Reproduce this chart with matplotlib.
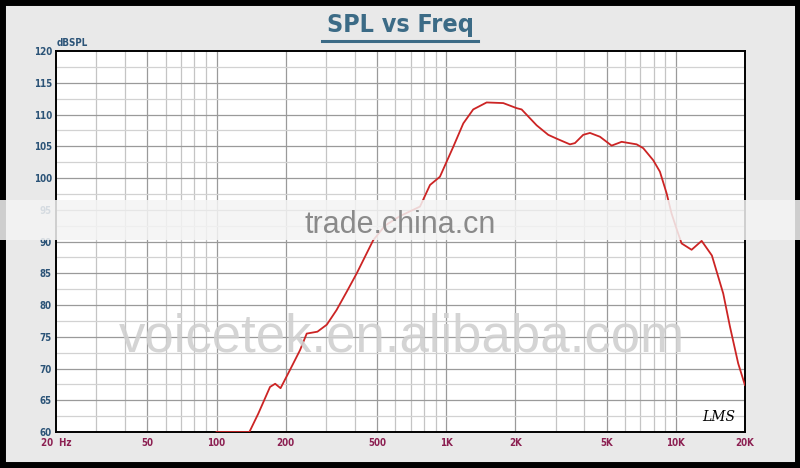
import numpy as np
import matplotlib
matplotlib.use('Agg')
import matplotlib.pyplot as plt
from matplotlib.patches import Rectangle
from matplotlib.lines import Line2D

# SPL response
freq_hz = [100, 139, 152, 171, 180, 190, 209, 231, 247, 275, 302, 333, 369, 408,
           450, 481, 541, 629, 769, 850, 939, 1073, 1187, 1311, 1500, 1772, 2027,
           2130, 2476, 2782, 3026, 3458, 3636, 3950, 4226, 4672, 5252, 5806, 6750,
           7210, 7970, 8522, 9112, 9580, 10070, 10590, 11710, 12950, 14350, 16080,
           17200, 18680, 19980]
spl_db = [60, 60, 62.9, 67.1, 67.6, 66.9, 69.8, 72.9, 75.5, 75.8, 76.9, 79.2, 82.1,
          85.0, 88.1, 90.2, 92.5, 94.0, 95.5, 98.9, 100.2, 104.9, 108.6, 110.8,
          111.9, 111.8, 111.0, 110.8, 108.3, 106.8, 106.2, 105.3, 105.5, 106.8,
          107.1, 106.5, 105.1, 105.7, 105.3, 104.7, 102.8, 101.0, 97.6, 94.4, 92.0,
          89.7, 88.7, 90.1, 87.8, 81.8, 76.6, 70.8, 67.4]

x_ticks = [20, 50, 100, 200, 500, 1000, 2000, 5000, 10000, 20000]
x_labels = ['20  Hz', '50', '100', '200', '500', '1K', '2K', '5K', '10K', '20K']
y_ticks = list(range(60, 121, 5))

fig = plt.figure(figsize=(8, 4.68), dpi=100)
fig.patch.set_facecolor('#e9e9e9')
fig.patches.append(Rectangle((0.003, 0.006), 0.994, 0.99, transform=fig.transFigure,
                             fill=False, edgecolor='black', linewidth=5))

ax = fig.add_axes([0.07, 0.0769, 0.86125, 0.8141])
ax.set_facecolor('white')
ax.set_xscale('log')
ax.set_xlim(20, 20000)
ax.set_ylim(60, 120)

# grid
for dec in [10, 100, 1000, 10000]:
    for m in range(1, 10):
        f = dec * m
        if f <= 20 or f >= 20000:
            continue
        c = '#9a9a9a' if m in (1, 2, 5) else '#c4c4c4'
        ax.axvline(f, color=c, lw=0.9, zorder=1)
for v in np.arange(62.5, 120, 2.5):
    c = '#9a9a9a' if v % 5 == 0 else '#d2d2d2'
    ax.axhline(v, color=c, lw=0.9, zorder=1)

ax.plot(freq_hz, spl_db, color='#cc2424', lw=1.3, zorder=3, clip_on=True)

ax.set_xticks(x_ticks)
ax.set_xticklabels(x_labels)
ax.xaxis.set_minor_locator(matplotlib.ticker.NullLocator())
ax.set_yticks(y_ticks)
ax.tick_params(axis='both', length=0)
ax.tick_params(axis='x', pad=4, labelcolor='#8c2052')
ax.tick_params(axis='y', pad=3, labelcolor='#2b5377')
for lab in ax.get_xticklabels() + ax.get_yticklabels():
    lab.set_family('DejaVu Sans')
    lab.set_stretch('condensed')
    lab.set_fontweight('bold')
    lab.set_fontsize(7)
for s in ax.spines.values():
    s.set_linewidth(1.4)
    s.set_color('black')

fig.text(0.071, 0.897, 'dBSPL', family='DejaVu Sans', stretch='condensed',
         fontsize=7, fontweight='bold', color='#2b5377', va='bottom', ha='left')

fig.text(0.5, 0.947, 'SPL vs Freq', family='DejaVu Sans', stretch='condensed',
         fontsize=18, fontweight='bold', color='#3c6b86', ha='center', va='center')
fig.lines.append(Line2D([0.4025, 0.5975], [0.912, 0.912], transform=fig.transFigure,
                        color='#3c6b86', lw=2.2))

# watermarks
fig.patches.append(Rectangle((0.0, 0.487), 1.0, 0.085, transform=fig.transFigure,
                             facecolor='#f4f4f4', edgecolor='none', alpha=0.85,
                             zorder=5))
fig.text(0.5, 0.519, 'trade.china.cn', fontsize=22, color='#8a8a8a',
         family='Liberation Sans', ha='center', va='center', zorder=6)
fig.text(0.502, 0.278, 'voicetek.en.alibaba.com', fontsize=38, color='#d0d0d0',
         family='Liberation Sans', ha='center', va='center', alpha=0.9, zorder=6)

fig.text(0.898, 0.108, 'LMS', fontsize=10, style='italic', color='black',
         family='DejaVu Serif', ha='center', va='center')

fig.savefig('out.png', dpi=100, facecolor=fig.get_facecolor())
